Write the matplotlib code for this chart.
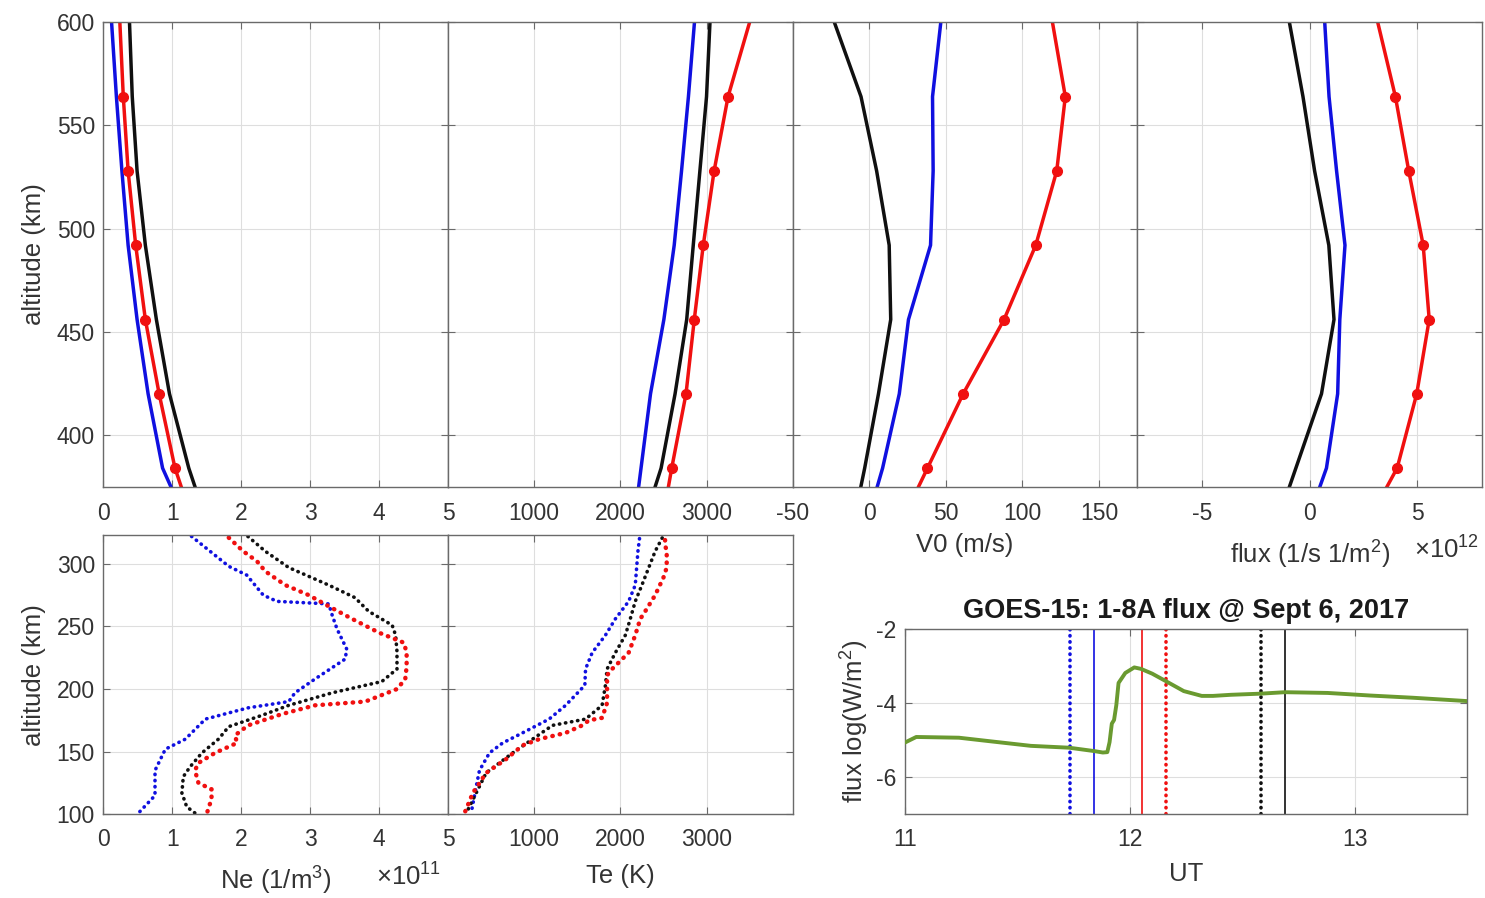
import matplotlib
matplotlib.use("Agg")
import matplotlib.pyplot as plt

plt.rcParams['font.family'] = ['Liberation Sans', 'DejaVu Sans']
plt.rcParams['mathtext.fontset'] = 'custom'
plt.rcParams['mathtext.rm'] = 'Liberation Sans'
plt.rcParams['mathtext.it'] = 'Liberation Sans'
plt.rcParams['axes.unicode_minus'] = False

# ---------------- upper profiles (altitude grid, 36 km spacing) ----------------
alt_top = [600, 564, 528, 492, 456, 420, 384, 348]

ne_top_black = [0.38, 0.42, 0.49, 0.61, 0.77, 0.96, 1.24, 1.60]
ne_top_blue = [0.12, 0.19, 0.27, 0.36, 0.49, 0.65, 0.86, 1.34]
ne_top_red = [0.24, 0.29, 0.36, 0.47, 0.61, 0.81, 1.04, 1.40]

te_top_black = [3040, 3000, 2923, 2846, 2770, 2635, 2473, 2197]
te_top_blue = [2860, 2790, 2710, 2625, 2505, 2350, 2240, 2130]
te_top_red = [3500, 3250, 3088, 2962, 2858, 2762, 2596, 2444]

v0_black = [-22.8, -5.4, 4.8, 13.0, 14.0, 6.0, -3.0, -13.0]
v0_blue = [46.7, 41.3, 41.7, 40.0, 25.6, 19.6, 8.7, -5.3]
v0_red = [119.6, 128.0, 122.4, 108.7, 88.0, 61.3, 38.0, 14.7]

flux_black = [-0.94, -0.31, 0.23, 0.89, 1.13, 0.55, -0.64, -1.83]
flux_blue = [0.70, 0.90, 1.25, 1.64, 1.40, 1.30, 0.78, -0.44]
flux_red = [3.16, 3.98, 4.60, 5.27, 5.55, 4.97, 4.06, 2.18]

# ---------------- lower profiles (measured Ne, Te) ----------------
ne_blue_alt = [325, 298, 291, 275, 270, 268, 259, 248, 232, 224, 208, 197, 190, 185,
               176, 160, 152, 135, 115, 101, 100]
ne_blue = [1.21, 1.82, 2.08, 2.32, 2.52, 3.27, 3.32, 3.39, 3.53, 3.51, 3.07, 2.78, 2.69,
           2.10, 1.48, 1.19, 0.90, 0.75, 0.75, 0.51, 0.48]
ne_black_alt = [325, 310, 297, 283, 273, 262, 251, 243, 230, 216, 206, 197, 187, 179,
                170, 160, 149, 138, 130, 117, 106, 101]
ne_black = [2.03, 2.35, 2.69, 3.27, 3.65, 3.85, 4.19, 4.24, 4.26, 4.26, 4.04, 3.32, 2.69,
            2.30, 1.82, 1.67, 1.43, 1.26, 1.16, 1.14, 1.21, 1.33]
ne_red_alt = [325, 310, 302, 294, 283, 275, 267, 256, 245, 237, 229, 218, 208, 200, 190,
              187, 180, 171, 163, 157, 149, 141, 135, 125, 120, 112, 104, 100]
ne_red = [1.74, 2.03, 2.23, 2.35, 2.64, 2.98, 3.24, 3.61, 4.00, 4.36, 4.40, 4.40, 4.38,
          4.26, 3.80, 3.07, 2.59, 2.10, 1.91, 1.94, 1.62, 1.38, 1.33, 1.38, 1.57, 1.57,
          1.52, 1.50]

te_blue_alt = [325, 310, 283, 270, 256, 243, 229, 216, 203, 187, 176, 165, 157, 149,
               135, 122, 108, 101]
te_blue = [2231, 2204, 2173, 2096, 1942, 1827, 1673, 1596, 1588, 1365, 1173, 865, 635,
           481, 365, 327, 288, 269]
te_black_alt = [325, 310, 283, 270, 256, 243, 229, 216, 203, 187, 176, 171, 160, 149,
                133, 117, 101]
te_black = [2519, 2404, 2250, 2173, 2115, 2058, 1942, 1846, 1827, 1788, 1596, 1212, 981,
            750, 442, 327, 212]
te_red_alt = [325, 315, 310, 297, 289, 275, 262, 256, 243, 229, 216, 211, 203, 189, 177,
              175, 171, 165, 160, 155, 144, 133, 117, 101]
te_red = [2519, 2519, 2538, 2538, 2500, 2404, 2288, 2231, 2173, 2096, 1904, 1846, 1846,
          1846, 1788, 1635, 1558, 1365, 1058, 865, 673, 442, 288, 192]

# ---------------- GOES-15 X-ray flux ----------------
ut = [11.0, 11.05, 11.24, 11.37, 11.56, 11.73, 11.84, 11.88, 11.90, 11.91, 11.92, 11.93,
      11.94, 11.95, 11.98, 12.02, 12.05, 12.10, 12.16, 12.24, 12.32, 12.37, 12.45, 12.58,
      12.69, 12.88, 13.07, 13.26, 13.5]
log_flux = [-5.06, -4.91, -4.93, -5.02, -5.15, -5.20, -5.29, -5.33, -5.32, -5.05, -4.55,
            -4.45, -4.05, -3.45, -3.18, -3.03, -3.07, -3.20, -3.40, -3.67, -3.80, -3.80,
            -3.77, -3.74, -3.70, -3.72, -3.79, -3.85, -3.94]
t_blue_dot, t_blue_solid = 11.733, 11.84
t_red_solid, t_red_dot = 12.053, 12.163
t_black_dot, t_black_solid = 12.585, 12.69

BLUE = '#1010e0'
RED = '#f01010'
BLACK = '#101010'
GREEN = '#6a9a30'
TXT = '#333333'
FS = 16.5      # tick labels
FSL = 18.5     # axis labels
FST = 19.5     # title

W, H = 1485, 898
fig = plt.figure(figsize=(W / 100, H / 100), dpi=100)


def px_axes(x0, y0, x1, y1):
    return fig.add_axes([x0 / W, 1 - y1 / H, (x1 - x0) / W, (y1 - y0) / H])


def style(ax, xpad=11, ypad=6):
    for s in ax.spines.values():
        s.set_color('#6a6a6a')
        s.set_linewidth(1.0)
    ax.tick_params(direction='in', length=5, width=0.8, color='#6a6a6a',
                   top=True, right=True, labelsize=FS, labelcolor=TXT)
    ax.tick_params(axis='x', pad=xpad)
    ax.tick_params(axis='y', pad=ypad)
    ax.grid(True, color='#dedede', linewidth=0.8)
    ax.set_axisbelow(True)


lw = 2.5
ms = 7
x_edges = [103.3, 448.0, 792.7, 1137.3, 1482.0]
top_y0, top_y1 = 22.3, 486.7
bot_y0, bot_y1 = 535.0, 814.3

# upper row
top_axes = []
for i in range(4):
    ax = px_axes(x_edges[i], top_y0, x_edges[i + 1], top_y1)
    style(ax)
    ax.set_ylim(375, 600)
    ax.set_yticks([400, 450, 500, 550, 600])
    if i > 0:
        ax.set_yticklabels([])
    top_axes.append(ax)

ax = top_axes[0]
ax.plot(ne_top_blue, alt_top, color=BLUE, lw=lw)
ax.plot(ne_top_black, alt_top, color=BLACK, lw=lw)
ax.plot(ne_top_red, alt_top, color=RED, lw=lw, marker='o', ms=ms, markevery=range(1, 7))
ax.set_xlim(0, 5)
ax.set_xticks([0, 1, 2, 3, 4, 5])
ax.set_ylabel('altitude (km)', fontsize=FSL, color=TXT, labelpad=8)

ax = top_axes[1]
ax.plot(te_top_blue, alt_top, color=BLUE, lw=lw)
ax.plot(te_top_black, alt_top, color=BLACK, lw=lw)
ax.plot(te_top_red, alt_top, color=RED, lw=lw, marker='o', ms=ms, markevery=range(1, 7))
ax.set_xlim(0, 4000)
ax.set_xticks([1000, 2000, 3000])

ax = top_axes[2]
ax.plot(v0_black, alt_top, color=BLACK, lw=lw)
ax.plot(v0_blue, alt_top, color=BLUE, lw=lw)
ax.plot(v0_red, alt_top, color=RED, lw=lw, marker='o', ms=ms, markevery=range(1, 7))
ax.set_xlim(-50, 175)
ax.set_xticks([-50, 0, 50, 100, 150])
ax.set_xlabel('V0 (m/s)', fontsize=FSL, color=TXT, labelpad=6)

ax = top_axes[3]
ax.plot(flux_black, alt_top, color=BLACK, lw=lw)
ax.plot(flux_blue, alt_top, color=BLUE, lw=lw)
ax.plot(flux_red, alt_top, color=RED, lw=lw, marker='o', ms=ms, markevery=range(1, 7))
ax.set_xlim(-8, 8)
ax.set_xticks([-5, 0, 5])
ax.set_xlabel('flux (1/s 1/m$^2$)', fontsize=FSL, color=TXT, labelpad=10)
fig.text(1447 / W, 1 - 550 / H, r'$\times$10$^{12}$', fontsize=FSL, color=TXT,
         ha='center', va='center')

# lower row
dot = dict(linestyle=(0, (0.1, 1.6)), dash_capstyle='round')
ax_ne = px_axes(x_edges[0], bot_y0, x_edges[1], bot_y1)
style(ax_ne, xpad=10)
ax_ne.plot(ne_blue, ne_blue_alt, color=BLUE, lw=2.6, **dot)
ax_ne.plot(ne_black, ne_black_alt, color=BLACK, lw=2.6, **dot)
ax_ne.plot(ne_red, ne_red_alt, color=RED, lw=3.2, **dot)
ax_ne.set_xlim(0, 5)
ax_ne.set_ylim(100, 323)
ax_ne.set_xticks([0, 1, 2, 3, 4, 5])
ax_ne.set_yticks([100, 150, 200, 250, 300])
ax_ne.set_ylabel('altitude (km)', fontsize=FSL, color=TXT, labelpad=8)
ax_ne.set_xlabel('Ne (1/m$^3$)', fontsize=FSL, color=TXT, labelpad=10)
fig.text(409 / W, 1 - 877 / H, r'$\times$10$^{11}$', fontsize=FSL, color=TXT,
         ha='center', va='center')

ax_te = px_axes(x_edges[1], bot_y0, x_edges[2], bot_y1)
style(ax_te, xpad=10)
ax_te.plot(te_blue, te_blue_alt, color=BLUE, lw=2.6, **dot)
ax_te.plot(te_black, te_black_alt, color=BLACK, lw=2.6, **dot)
ax_te.plot(te_red, te_red_alt, color=RED, lw=3.2, **dot)
ax_te.set_xlim(0, 4000)
ax_te.set_ylim(100, 323)
ax_te.set_xticks([1000, 2000, 3000])
ax_te.set_yticks([100, 150, 200, 250, 300])
ax_te.set_yticklabels([])
ax_te.set_xlabel('Te (K)', fontsize=FSL, color=TXT, labelpad=9)

# GOES panel
ax_g = px_axes(905.0, 629.3, 1467.0, bot_y1)
style(ax_g, xpad=10)
ax_g.plot(ut, log_flux, color=GREEN, lw=2.8, zorder=3)
ax_g.axvline(t_blue_dot, color=BLUE, lw=2.6, **dot)
ax_g.axvline(t_blue_solid, color=BLUE, lw=1.2)
ax_g.axvline(t_red_solid, color=RED, lw=1.2)
ax_g.axvline(t_red_dot, color=RED, lw=2.6, **dot)
ax_g.axvline(t_black_dot, color=BLACK, lw=2.6, **dot)
ax_g.axvline(t_black_solid, color=BLACK, lw=1.2)
ax_g.set_xlim(11, 13.5)
ax_g.set_ylim(-7, -2)
ax_g.set_xticks([11, 12, 13])
ax_g.set_yticks([-6, -4, -2])
ax_g.set_xlabel('UT', fontsize=FSL, color=TXT, labelpad=8)
ax_g.set_ylabel('flux log(W/m$^2$)', fontsize=FSL, color=TXT, labelpad=4)
ax_g.set_title('GOES-15: 1-8A flux @ Sept 6, 2017', fontsize=FST, fontweight='bold',
               color='#1a1a1a', pad=8)

fig.savefig('out.png', dpi=100, facecolor='white')
